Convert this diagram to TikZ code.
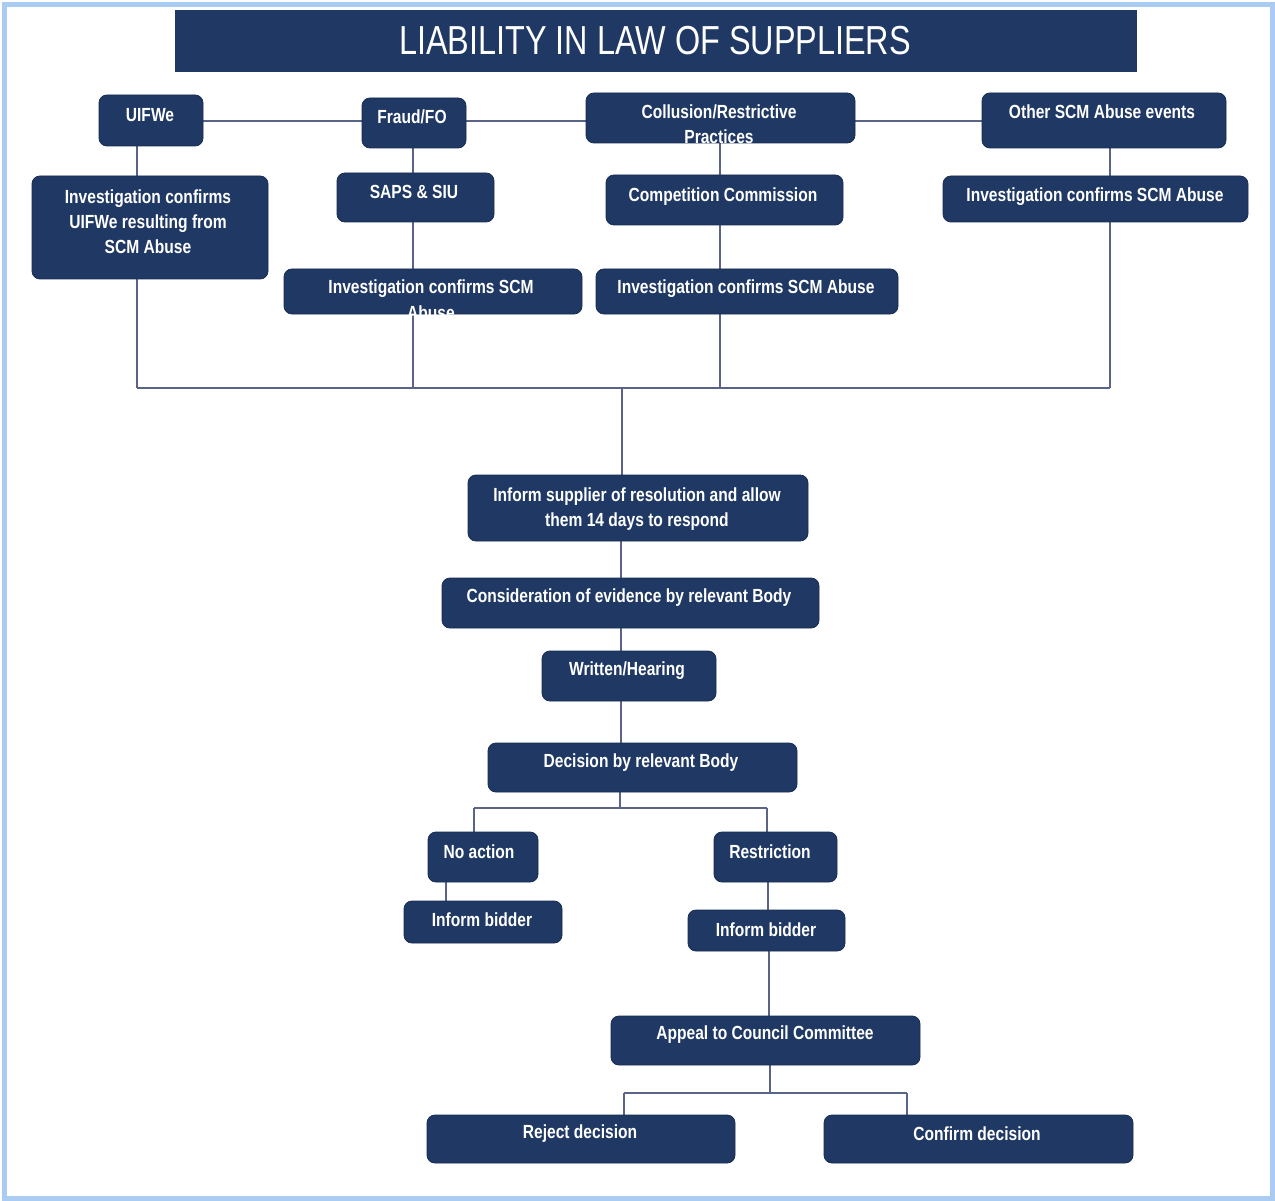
\documentclass[tikz,border=0pt]{standalone}
\usepackage{fontspec}
\setmainfont{Liberation Sans}[FakeStretch=0.82]
\newfontfamily\titlefont{Liberation Sans}[FakeStretch=0.80]
\definecolor{navy}{HTML}{1F3864}
\definecolor{linec}{HTML}{5A6488}
\definecolor{framec}{HTML}{AACBF2}
\tikzset{
  box/.style={draw=navy!80!black, line width=0.8pt, fill=navy, rounded corners=8pt, inner sep=0pt},
  txt/.style={text=white, font=\fontsize{19}{25}\selectfont\bfseries, inner sep=0pt, align=center},
  conn/.style={draw=linec, line width=1.6pt}
}
\newcommand{\bx}[6]{% name x1 y1 x2 y2
  \node[box, minimum width={#4-#2}, minimum height={#5-#3}] (#1) at ({(#2+#4)/2},{(#3+#5)/2}) {};
}
\begin{document}
\begin{tikzpicture}[x=1pt,y=-1pt]
\useasboundingbox (0,0) rectangle (1275,1201);
\fill[white] (0,0) rectangle (1275,1201);
\draw[framec, line width=5pt] (4.5,4.5) rectangle (1272.5,1198.5);

% title
\node[fill=navy, minimum width=962, minimum height=62, inner sep=0pt] (title) at (656,41) {};
\node[text=white, font=\titlefont\fontsize{40.5}{44}\selectfont, inner sep=0pt] (titlet) at (655,41) {LIABILITY IN LAW OF SUPPLIERS};

% coordinates for bus lines
\coordinate (busL) at (137,388);
\coordinate (busR) at (1110,388);
\coordinate (busM) at (622,388);
\coordinate (decJ) at (620,808);
\coordinate (decL) at (474,808);
\coordinate (decR) at (767,808);
\coordinate (appJ) at (770,1093);
\coordinate (appL) at (624,1093);
\coordinate (appR) at (907,1093);

% connectors (drawn first)
\draw[conn] (203,121) -- (362,121);
\draw[conn] (466,121) -- (586,121);
\draw[conn] (855,121) -- (982,121);
\draw[conn] (137,146) -- (137,176);
\draw[conn] (137,279) -- (busL);
\draw[conn] (413,148) -- (413,173);
\draw[conn] (413,222) -- (413,269);
\draw[conn] (413,314) -- (413,388);
\draw[conn] (720,143) -- (720,175);
\draw[conn] (720,225) -- (720,269);
\draw[conn] (720,314) -- (720,388);
\draw[conn] (1110,148) -- (1110,176);
\draw[conn] (1110,222) -- (busR);
\draw[conn] (busL) -- (busR);
\draw[conn] (busM) -- (622,475);
\draw[conn] (621,541) -- (621,578);
\draw[conn] (621,628) -- (621,651);
\draw[conn] (621,701) -- (621,743);
\draw[conn] (620,792) -- (decJ);
\draw[conn] (decL) -- (decR);
\draw[conn] (decL) -- (474,832);
\draw[conn] (decR) -- (767,832);
\draw[conn] (446,882) -- (446,901);
\draw[conn] (768,882) -- (768,910);
\draw[conn] (769,951) -- (769,1016);
\draw[conn] (770,1065) -- (appJ);
\draw[conn] (appL) -- (appR);
\draw[conn] (appL) -- (624,1115);
\draw[conn] (appR) -- (907,1115);

% boxes
\bx{uifwe}{99}{95}{203}{146}{}
\bx{fraud}{362}{98}{466}{148}{}
\bx{coll}{586}{93}{855}{143}{}
\bx{other}{982}{93}{1226}{148}{}
\bx{invu}{32}{176}{268}{279}{}
\bx{saps}{337}{173}{494}{222}{}
\bx{comp}{606}{175}{843}{225}{}
\bx{invo}{943}{176}{1248}{222}{}
\bx{invf}{284}{269}{582}{314}{}
\bx{invc}{596}{269}{898}{314}{}
\bx{inform}{468}{475}{808}{541}{}
\bx{consid}{442}{578}{819}{628}{}
\bx{written}{542}{651}{716}{701}{}
\bx{decision}{488}{743}{797}{792}{}
\bx{noact}{428}{832}{538}{882}{}
\bx{ibl}{404}{901}{562}{943}{}
\bx{restr}{714}{832}{837}{882}{}
\bx{ibr}{688}{910}{845}{951}{}
\bx{appeal}{611}{1016}{920}{1065}{}
\bx{reject}{427}{1115}{735}{1163}{}
\bx{confirm}{824}{1115}{1133}{1163}{}

% texts
\node[txt] (uifwe-t) at (150,115) {UIFWe};
\node[txt] (fraud-t) at (412,117) {Fraud/FO};
\node[txt] (coll-t1) at (719,112) {Collusion/Restrictive};
\node[txt] (coll-t2) at (719,137) {Practices};
\node[txt] (other-t) at (1102,112) {Other SCM Abuse events};
\node[txt] (invu-t) at (148,222) {Investigation confirms\\UIFWe resulting from\\SCM Abuse};
\node[txt] (saps-t) at (414,192) {SAPS \& SIU};
\node[txt] (comp-t) at (723,197) {Competition Commission};
\node[txt] (invo-t) at (1095,197) {Investigation confirms SCM Abuse};
\node[txt] (invf-t1) at (431,289) {Investigation confirms SCM};
\node[txt] (invf-t2) at (431,313) {Abuse};
\node[txt] (invc-t) at (746,289) {Investigation confirms SCM Abuse};
\node[txt] (inform-t) at (637,509) {Inform supplier of resolution and allow\\them 14 days to respond};
\node[txt] (consid-t) at (629,598) {Consideration of evidence by relevant Body};
\node[txt] (written-t) at (627,671) {Written/Hearing};
\node[txt] (decision-t) at (641,763) {Decision by relevant Body};
\node[txt] (noact-t) at (479,852) {No action};
\node[txt] (ibl-t) at (482,920) {Inform bidder};
\node[txt] (restr-t) at (770,852) {Restriction};
\node[txt] (ibr-t) at (766,930) {Inform bidder};
\node[txt] (appeal-t) at (765,1035) {Appeal to Council Committee};
\node[txt] (reject-t) at (580,1134) {Reject decision};
\node[txt] (confirm-t) at (977,1134) {Confirm decision};
\end{tikzpicture}
\end{document}
